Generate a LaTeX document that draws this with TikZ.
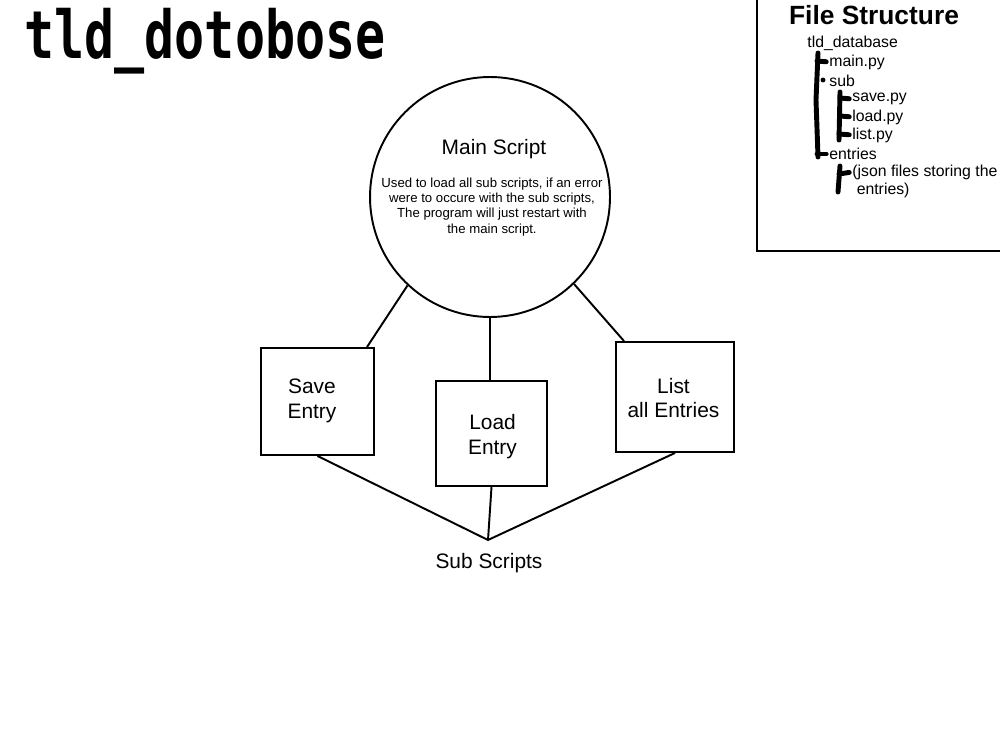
\documentclass[tikz,border=0pt]{standalone}
\usepackage{graphicx}
\usepackage{fontspec}
\setmainfont{Liberation Sans}
\newfontfamily\pixfont{DejaVu Sans Mono}
\usetikzlibrary{positioning}
\tikzset{
	stroke/.style={line width=1.1pt},
	bigtext/.style={font=\fontsize{11.9}{14.2}\selectfont},
	scriptbox/.style={draw,stroke,align=center,bigtext},
	treeitem/.style={anchor=west,align=left,font=\fontsize{9}{10.3}\selectfont},
	marker/.style={line width=2.8pt,line cap=round,line join=round},
	tick/.style={marker,shorten >=1.6pt}
}
\begin{document}
\begin{tikzpicture}[x=0.02cm,y=-0.02cm,every node/.style={inner sep=0pt}]
	\useasboundingbox (0,0) rectangle (1000,750);
	% title
	\node (title) [anchor=west] at (24,41)
		{\scalebox{1.02}[1.35]{\pixfont\bfseries\fontsize{27.9}{30}\selectfont tld\_dotobose}};
	% main script
	\node (main) [draw,stroke,circle,minimum size=4.8cm] at (490,197) {};
	\node (maintitle) [bigtext] at (494,149) {Main Script};
	\node (maindesc) [align=center,font=\fontsize{7.5}{8.6}\selectfont] at (492,207)
		{Used to load all sub scripts, if an error\\
		were to occure with the sub scripts,\\
		The program will just restart with\\
		the main script.};
	% sub scripts
	\node (save) [scriptbox,minimum width=2.26cm,minimum height=2.14cm] at (317.5,401.5) {};
	\node (savetext) [bigtext,align=center] at (312,401) {Save\\Entry};
	\node (load) [scriptbox,minimum width=2.22cm,minimum height=2.1cm] at (491.5,433.5) {};
	\node (loadtext) [bigtext,align=center] at (492.5,437) {Load\\Entry};
	\node (list) [scriptbox,minimum width=2.36cm,minimum height=2.2cm] at (675,397) {};
	\node (listtext) [bigtext,align=center] at (673.5,398) {List\\all Entries};
	\coordinate (hub) at (488,540);
	\node (subs) [bigtext] at (489,563) {Sub Scripts};
	\draw [stroke] (main.227) -- ([xshift=0.99cm]save.north);
	\draw [stroke] (main.south) -- (main.south |- load.north);
	\draw [stroke] (main.314) -- ([xshift=-1.02cm]list.north);
	\draw [stroke] (save.south) -- (hub) -- (list.south);
	\draw [stroke] (load.south) -- (hub);
	% file structure
	\draw [line width=0.9pt] (757,-10) -- (757,251) -- (1010,251);
	\node (fstitle) [font=\bfseries\fontsize{15}{18}\selectfont] at (874,15) {File Structure};
	\node (root) [treeitem] at (807,43) {tld\_database};
	\node (mainpy) [treeitem] at (829,62) {main.py};
	\node (sub) [treeitem] at (829,81) {sub};
	\node (savepy) [treeitem] at (852,99) {save.py};
	\node (loadpy) [treeitem] at (852,117) {load.py};
	\node (listpy) [treeitem] at (852,135) {list.py};
	\node (entries) [treeitem] at (829,154) {entries};
	\node (json) [treeitem,anchor=north west] at (852,165) {(json files storing the\\\ entries)};
	\draw [marker] (818,53) -- (816,100) -- (818,157);
	\draw [tick] (817,61) -- (mainpy.west);
	\fill (823,80) circle (1.4pt);
	\draw [tick] (817,154) -- (entries.west);
	\draw [marker] (840,92) -- (839,140);
	\draw [tick] (840,98) -- (savepy.west);
	\draw [tick] (840,116) -- (loadpy.west);
	\draw [tick] (839,134) -- (listpy.west);
	\draw [marker] (840,166) -- (838,192);
	\draw [tick] (839,174) -- (json.west |- 0,172);
\end{tikzpicture}
\end{document}
